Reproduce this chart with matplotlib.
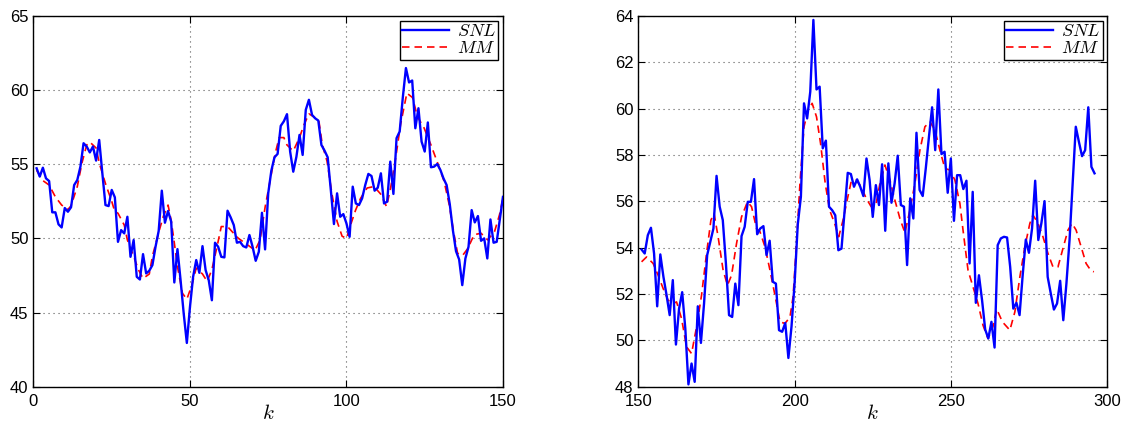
import numpy as np
import matplotlib.pyplot as plt

plt.rcParams['font.family'] = ['Liberation Sans', 'DejaVu Sans']
plt.rcParams['mathtext.fontset'] = 'cm'

# ---- panel 1 (k = 1..150) ----
snl1_k = np.arange(1, 151)
snl1 = [54.73, 54.17, 54.77, 54.05, 53.87, 51.76, 51.76, 50.95, 50.74, 52.05,
        51.80, 52.10, 53.60, 53.94, 54.84, 56.42, 56.20, 55.80, 56.20, 55.25,
        56.64, 54.40, 52.25, 52.18, 53.27, 52.77, 49.77, 50.56, 50.34, 51.46,
        48.76, 49.89, 47.41, 47.23, 48.94, 47.64, 47.82, 48.20, 49.44, 50.50,
        53.22, 51.06, 51.85, 51.13, 47.03, 49.28, 47.18, 44.93, 42.95, 45.38,
        47.41, 48.54, 47.68, 49.48, 47.86, 47.18, 45.83, 49.71, 49.44, 48.76,
        48.72, 51.87, 51.42, 50.90, 49.71, 49.77, 49.48, 49.39, 50.23, 49.44,
        48.49, 49.10, 51.73, 49.26, 53.04, 54.57, 55.47, 55.70, 57.59, 57.90,
        58.38, 55.86, 54.50, 55.50, 56.98, 55.63, 58.67, 59.35, 58.33, 58.10,
        57.95, 56.30, 55.92, 55.47, 53.27, 50.97, 53.04, 51.46, 51.64, 51.01,
        50.11, 53.49, 52.36, 52.25, 52.70, 53.60, 54.35, 54.21, 53.22, 53.42,
        54.39, 52.36, 52.48, 55.18, 53.00, 56.76, 57.21, 59.50, 61.49, 60.52,
        60.65, 57.43, 58.78, 56.53, 55.86, 57.82, 54.80, 54.84, 55.02, 54.62,
        54.05, 53.60, 52.32, 50.56, 49.14, 48.58, 46.85, 48.65, 49.44, 51.91,
        51.08, 51.51, 49.84, 50.00, 48.65, 51.28, 49.71, 49.77, 51.28, 52.80]

mm1_k = [1, 3, 5, 7, 9, 11, 12, 14, 15.5, 17, 18, 20, 21, 23, 25, 26, 27, 29, 30, 32,
         33.5, 35, 37, 38, 40, 41.5, 43, 44, 45, 46, 47.6, 49, 50.6, 52, 54, 55.5, 57,
         58.6, 60, 62, 63.5, 65.5, 67.5, 70.8, 72.4, 74, 75.6, 77.2, 78.5, 80, 81, 83,
         85, 86.3, 88, 89.6, 91.2, 92.3, 93.8, 95.4, 97, 98.6, 100, 101.3, 102.9, 104.5,
         106.6, 108.8, 110.9, 112.8, 114.1, 115.7, 117.3, 119.3, 121.1, 122.7, 124.8,
         127, 129.1, 131.2, 132.8, 134.4, 135.5, 137.1, 138.7, 140.8, 143, 145.1,
         147.3, 148.9, 150]
mm1 = [54.6, 53.9, 53.6, 52.8, 52.25, 51.95, 52.2, 53.5, 55.1, 56.3, 56.5, 56.1, 55.1,
       53.7, 52.5, 51.8, 51.7, 50.9, 49.9, 48.8, 47.9, 47.3, 47.6, 48.8, 50.4, 51.5,
       52.25, 51.2, 49.7, 48.1, 46.3, 45.9, 46.85, 48.0, 47.6, 47.1, 47.9, 49.4, 50.8,
       50.8, 50.45, 50.0, 49.7, 49.2, 49.9, 52.1, 53.9, 55.7, 56.8, 56.8, 56.3, 55.9,
       56.8, 57.6, 58.4, 58.2, 57.9, 56.3, 55.2, 52.95, 51.15, 50.15, 50.0, 50.9, 51.9,
       52.7, 53.4, 53.5, 53.0, 52.15, 53.4, 55.4, 57.7, 59.8, 59.5, 58.2, 57.45, 56.3,
       55.1, 53.85, 52.3, 50.25, 49.0, 48.85, 49.3, 50.25, 50.35, 49.9, 50.45, 51.6,
       52.7]

# ---- panel 2 (k = 151..296) ----
snl2_k = np.arange(151, 297)
snl2 = [53.92, 53.75, 54.54, 54.86, 53.75, 51.47, 53.71, 52.74, 51.95, 51.09,
        52.60, 49.82, 51.37, 52.08, 50.51, 48.10, 49.00, 48.21, 51.47, 49.89,
        51.59, 53.68, 54.25, 54.83, 57.10, 55.77, 55.19, 53.32, 51.09, 51.01,
        52.45, 51.52, 54.50, 54.90, 55.98, 55.98, 56.96, 54.58, 54.83, 54.93,
        53.68, 54.30, 52.53, 52.45, 50.44, 50.37, 50.75, 49.24, 50.60, 52.50,
        55.00, 56.20, 60.23, 59.58, 60.73, 63.83, 60.83, 60.95, 58.29, 58.62,
        55.77, 55.62, 55.40, 53.89, 53.96, 55.62, 57.23, 57.18, 56.63, 56.95,
        56.63, 56.23, 57.85, 56.92, 55.33, 56.70, 55.84, 57.60, 54.73, 57.64,
        55.94, 56.77, 57.97, 55.84, 55.77, 53.25, 56.13, 55.26, 58.96, 56.49,
        56.23, 57.45, 58.79, 60.06, 58.21, 60.83, 58.04, 58.14, 56.37, 57.85,
        55.16, 57.13, 57.13, 56.53, 56.89, 53.32, 56.41, 51.62, 52.81, 51.73,
        50.47, 50.08, 50.80, 49.69, 54.11, 54.40, 54.47, 54.44, 53.17, 51.37,
        51.62, 51.09, 52.81, 54.35, 53.78, 54.83, 56.89, 54.33, 55.07, 56.01,
        52.74, 52.02, 51.33, 51.59, 52.57, 50.87, 52.45, 54.33, 56.77, 59.22,
        58.57, 57.95, 58.21, 60.06, 57.49, 57.21]

mm2_k = [151, 152.6, 154.7, 156.3, 157.9, 159.5, 161.1, 162.2, 163.8, 165.4, 167, 168.6,
         170.2, 171.8, 173.2, 174.2, 175.5, 177.1, 178.5, 179.8, 181.4, 183, 184.9, 186.2,
         187.8, 188.9, 190.5, 192.1, 193.7, 195.3, 196.9, 198.5, 199.5, 200.6, 201.7, 203,
         204.3, 205.6, 207, 208.3, 209.8, 211.2, 212.8, 214.1, 215.5, 216.8, 218.1, 219.7,
         221.3, 222.9, 224.5, 226.1, 227.3, 228.9, 230.5, 232.1, 233.7, 235.3, 236.9,
         238.5, 240.1, 241.7, 243.3, 244.9, 246.5, 248.1, 249.7, 251.3, 252.9, 253.9,
         255.5, 257.1, 258.7, 260.3, 261.9, 263.5, 264.7, 266.5, 268.9, 270.5, 272.1,
         273.7, 275.3, 276.3, 277.9, 279.5, 281.1, 282.7, 284.3, 285.9, 287.5, 288.8,
         290.1, 291.7, 293.3, 294.9, 295.8]
mm2 = [53.39, 53.6, 53.32, 52.81, 52.24, 51.73, 51.59, 51.66, 50.94, 49.72, 49.43, 50.58,
       51.95, 53.75, 55.19, 55.48, 54.47, 53.03, 52.38, 52.81, 54.18, 55.33, 55.98, 55.77,
       54.83, 54.69, 54.04, 53.03, 51.95, 50.8, 50.73, 51.0, 51.88, 54.18, 56.77, 59.22,
       59.94, 60.23, 59.65, 58.5, 56.77, 55.62, 55.05, 54.47, 55.19, 56.05, 56.85, 56.92,
       56.63, 56.13, 55.77, 55.91, 56.77, 57.57, 56.92, 56.05, 55.26, 54.64, 55.62, 56.77,
       58.21, 59.22, 59.44, 59.08, 58.21, 57.42, 57.35, 56.92, 55.91, 54.76, 53.03, 52.31,
       51.59, 50.65, 50.08, 50.6, 51.35, 50.8, 50.44, 51.23, 52.74, 54.04, 55.05, 55.41,
       55.05, 54.47, 53.75, 53.17, 53.17, 53.97, 54.76, 55.05, 54.76, 54.04, 53.32, 53.0,
       52.96]

fig = plt.figure(figsize=(11.31, 4.29), dpi=100)
ax1 = fig.add_axes([0.0296, 0.0986, 0.4151, 0.8641])
ax2 = fig.add_axes([0.5645, 0.0986, 0.4143, 0.8641])

panels = [
    (ax1, snl1_k, snl1, mm1_k, mm1, (0, 150), (40, 65), np.arange(40, 66, 5)),
    (ax2, snl2_k, snl2, mm2_k, mm2, (150, 300), (48, 64), np.arange(48, 65, 2)),
]

for ax, sk, sv, mk, mv, xl, yl, yt in panels:
    ax.plot(sk, sv, color='#0000ff', lw=1.7, label='$SNL$', zorder=3)
    ax.plot(mk, mv, color='#ff0000', lw=1.2, ls=(0, (4.5, 3)), label='$MM$', zorder=2)
    ax.set_xlim(*xl)
    ax.set_ylim(*yl)
    ax.set_xticks(np.arange(xl[0], xl[1] + 1, 50))
    ax.set_yticks(yt)
    ax.grid(True, ls=(0, (1, 3.5)), color='0.35', lw=0.8)
    ax.tick_params(direction='in', top=True, right=True, labelsize=12, length=5, width=0.8)
    ax.tick_params(axis='x', pad=5)
    for s in ax.spines.values():
        s.set_linewidth(1.0)
    ax.set_xlabel('$k$', fontsize=15, labelpad=-3)
    leg = ax.legend(loc='upper right', fontsize=13, fancybox=False, framealpha=1,
                    edgecolor='black', borderpad=0.15, labelspacing=0.0,
                    handlelength=2.6, handletextpad=0.4, borderaxespad=0.25)
    leg.get_frame().set_linewidth(1.0)

fig.savefig('out.png', dpi=100)
